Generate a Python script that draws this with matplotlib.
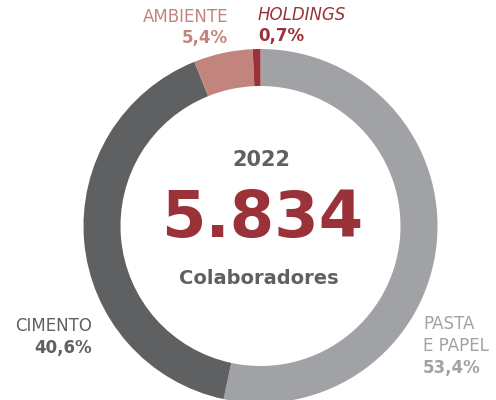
import matplotlib
matplotlib.use("Agg")
import matplotlib.pyplot as plt

# Staff split by business unit, 2022
segments = ["PASTA E PAPEL", "CIMENTO", "AMBIENTE", "HOLDINGS"]
shares = [53.4, 40.6, 5.4, 0.7]
colors = ["#a1a2a5", "#5f6062", "#c2857d", "#9b3139"]
year = "2022"
headcount = "5.834"
headcount_label = "Colaboradores"

W, H = 496, 400
CX, CY = 260.5, H - 226
R_OUT, RING = 177, 37

plt.rcParams["font.family"] = "DejaVu Sans"

fig = plt.figure(figsize=(W / 100, H / 100), dpi=100)
ax = fig.add_axes([0, 0, 1, 1])
ax.set_xlim(0, W)
ax.set_ylim(0, H)
ax.set_aspect("equal")
ax.axis("off")

ax.pie(shares, colors=colors, startangle=90, counterclock=False,
       center=(CX, CY), radius=R_OUT,
       wedgeprops=dict(width=RING, linewidth=0))
ax.set_xlim(0, W)
ax.set_ylim(0, H)


def y(py):
    return H - py


def pct(v):
    return f"{v:.1f}%".replace(".", ",")


# centre block
ax.text(CX + 1, y(160), year, ha="center", va="center", fontsize=15,
        fontweight="bold", color="#5f6062")
ax.text(CX + 2, y(219), headcount, ha="center", va="center", fontsize=46,
        fontweight="bold", color="#9b3139")
ax.text(CX - 2, y(279), headcount_label, ha="center", va="center",
        fontsize=14, fontweight="bold", color="#5f6062")

# segment labels
lab = dict(fontsize=12)
ax.text(228, y(17), "AMBIENTE", ha="right", va="center", color="#c2857d", **lab)
ax.text(228, y(38), pct(shares[2]), ha="right", va="center",
        color="#c2857d", fontweight="bold", **lab)
ax.text(258, y(15), "HOLDINGS", ha="left", va="center", color="#9b3139",
        style="italic", **lab)
ax.text(258, y(36), pct(shares[3]), ha="left", va="center",
        color="#9b3139", fontweight="bold", **lab)
ax.text(92, y(326), "CIMENTO", ha="right", va="center", color="#5f6062", **lab)
ax.text(92, y(348), pct(shares[1]), ha="right", va="center",
        color="#5f6062", fontweight="bold", **lab)
ax.text(423, y(324), "PASTA", ha="left", va="center", color="#a1a2a5", **lab)
ax.text(423, y(346), "E PAPEL", ha="left", va="center", color="#a1a2a5", **lab)
ax.text(423, y(368), pct(shares[0]), ha="left", va="center",
        color="#a1a2a5", fontweight="bold", **lab)

fig.savefig("out.png", dpi=100)
